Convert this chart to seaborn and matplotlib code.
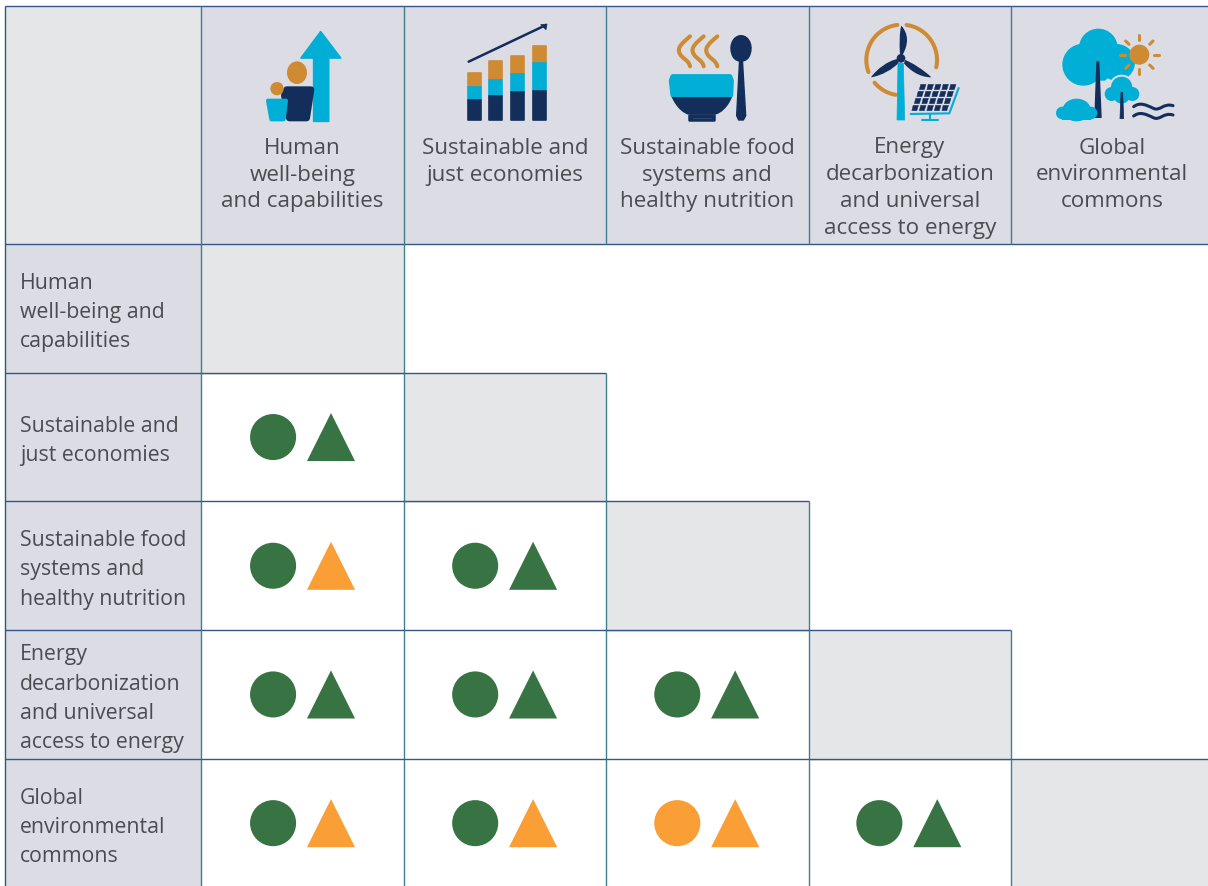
import numpy as np
import pandas as pd
import seaborn as sb
import matplotlib
matplotlib.use("Agg")
import matplotlib.pyplot as plt
from matplotlib.patches import Polygon, Circle, Ellipse, PathPatch, Rectangle
from matplotlib.path import Path

sb.set_theme(style="white")
plt.rcParams['font.family'] = ['Open Sans', 'DejaVu Sans']

header_lines = [
    ["Human", "well-being", "and capabilities"],
    ["Sustainable and", "just economies"],
    ["Sustainable food", "systems and", "healthy nutrition"],
    ["Energy", "decarbonization", "and universal", "access to energy"],
    ["Global", "environmental", "commons"],
]
row_lines = [
    ["Human", "well-being and", "capabilities"],
    ["Sustainable and", "just economies"],
    ["Sustainable food", "systems and", "healthy nutrition"],
    ["Energy", "decarbonization", "and universal", "access to energy"],
    ["Global", "environmental", "commons"],
]

# lower triangle of the matrix, one entry per pair
pair_row = [1, 2, 2, 3, 3, 3, 4, 4, 4, 4]
pair_col = [0, 0, 1, 0, 1, 2, 0, 1, 2, 3]
circle_status = ["good", "good", "good", "good", "good", "good", "good", "good", "mixed", "good"]
triangle_status = ["good", "mixed", "good", "good", "good", "good", "mixed", "mixed", "mixed", "good"]

GREEN = "#387443"
ORANGE = "#FA9E36"
HEAD = "#DBDCE4"
DIAG = "#E5E6E8"
TEXT = "#4B4B50"
HLINE = "#34568A"
VLINE = "#3F7F8E"
CYAN = "#00AED6"
NAVY = "#132E5B"
OCHRE = "#CE8B33"

W, H = 1208, 887
X0, CW = 201, 202.5
Y0, RH = 245, 128.7
TOP = 7
LEFT = 4.5

fig = plt.figure(figsize=(12.08, 8.87), dpi=100)
bg = fig.add_axes([0, 0, 1, 1], zorder=0)
bg.set_xlim(0, W)
bg.set_ylim(H, 0)
bg.set_axis_off()


def rect(x0, y0, x1, y1, color, z=1):
    bg.add_patch(Rectangle((x0, y0), x1 - x0, y1 - y0, fc=color, ec="none", zorder=z))


def hline(y, x0, x1, color=HLINE):
    bg.plot([x0, x1], [y, y], color=color, lw=1.0, zorder=3, solid_capstyle="butt")


def vline(x, y0, y1, color=VLINE):
    bg.plot([x, x], [y0, y1], color=color, lw=1.0, zorder=3, solid_capstyle="butt")


# table cells
rect(LEFT, TOP, X0, Y0, DIAG)
rect(X0, TOP, W, Y0, HEAD)
rect(LEFT, Y0, X0, H, HEAD)
for i in range(5):
    rect(X0 + i * CW, Y0 + i * RH, X0 + (i + 1) * CW, Y0 + (i + 1) * RH + 2, DIAG)

# grid
hline(TOP, LEFT, W)
hline(Y0, LEFT, W)
vline(LEFT, TOP, H, "#1F6470")
for i in range(6):
    vline(X0 + i * CW, TOP, Y0)
for i in range(5):
    yt = Y0 + i * RH
    if i > 0:
        hline(yt, LEFT, min(X0 + (i + 1) * CW, W))
    vline(X0, yt, yt + RH)
    for c in range(i + 1):
        vline(X0 + (c + 1) * CW, yt, yt + RH)

# header and row text
for i, lines in enumerate(header_lines):
    for j, line in enumerate(lines):
        bg.text(X0 + (i + 0.5) * CW, 153.5 + j * 27, line, ha="center", va="baseline",
                fontsize=16.1, color=TEXT, zorder=4)
row_base = [[289, 318, 347], [432, 461], [546, 575, 605], [660, 690, 719, 748], [804, 833, 862]]
for lines, bases in zip(row_lines, row_base):
    for line, b in zip(lines, bases):
        bg.text(20, b, line, ha="left", va="baseline", fontsize=15.3, color=TEXT, zorder=4)


# icons, points are in 3x crop coordinates measured from an origin
def mapper(ox, oy):
    return lambda pts: [(ox + a / 3, oy + b / 3) for a, b in pts]


def poly(m, pts, color, r=1.2):
    bg.add_patch(Polygon(m(pts), closed=True, fc=color, ec=color, lw=r, joinstyle="round", zorder=5))


def circ(m, x, y, r, color, z=5):
    bg.add_patch(Circle(m([(x, y)])[0], r / 3, fc=color, ec="none", zorder=z))


def oval(m, x, y, w, h, color, z=5):
    bg.add_patch(Ellipse(m([(x, y)])[0], w / 3, h / 3, fc=color, ec="none", zorder=z))


def stroke(m, pts, color, lw=2.9):
    a = np.array(m(pts))
    bg.plot(a[:, 0], a[:, 1], color=color, lw=lw, solid_capstyle="round", zorder=5)


def bez(m, pts, color=None, edge=None, lw=0, z=5):
    # pts is start then groups of three cubic points
    codes = [Path.MOVETO] + [Path.CURVE4] * (len(pts) - 1)
    bg.add_patch(PathPatch(Path(m(pts), codes), fc=color or "none", ec=edge or "none", lw=lw,
                           capstyle="round", zorder=z))


# people with arrow
m = mapper(200, 0)
poly(m, [(341, 367), (341, 177), (303, 177), (362, 98), (422, 177), (386, 177), (386, 367)], CYAN)
poly(m, [(260, 272), (333, 272), (320, 357), (268, 357), (253, 290)], NAVY, 4.8)
oval(m, 291, 221, 60, 68, OCHRE, 6)
circ(m, 231, 269, 20, OCHRE, 6)
poly(m, [(204, 305), (258, 305), (251, 361), (214, 361)], CYAN, 2.9)

# stacked bars with arrow
bar_tops = [(800, 218, 263, 302), (865, 183, 243, 291), (931, 169, 225, 278), (996, 138, 191, 275)]
for x, a, b, c in bar_tops:
    poly(m, [(x + 3, a + 3), (x + 42, a + 3), (x + 42, b), (x + 3, b)], OCHRE)
    poly(m, [(x + 3, b), (x + 42, b), (x + 42, c), (x + 3, c)], CYAN)
    poly(m, [(x + 3, c), (x + 42, c), (x + 42, 364), (x + 3, 364)], NAVY)
stroke(m, [(806, 188), (1036, 79)], NAVY, 1.8)
poly(m, [(1022, 77), (1041, 75), (1038, 92)], NAVY, 0.5)

# bowl and spoon
m = mapper(660, 25)
for dx in [0, 41, 82]:
    bez(m, [(90 + dx, 37), (70 + dx, 55), (48 + dx, 70), (60 + dx, 90),
            (68 + dx, 105), (86 + dx, 108), (90 + dx, 127)], edge=OCHRE, lw=2.9)
poly(m, [(38, 157), (210, 157), (215, 170), (213, 214), (38, 214), (33, 170)], CYAN, 3.2)
bez(m, [(35, 219), (50, 255), (75, 270), (85, 272), (110, 272), (140, 272), (165, 272),
        (180, 270), (205, 250), (216, 219), (150, 219), (100, 219), (35, 219)], color=NAVY)
poly(m, [(88, 272), (162, 272), (162, 288), (88, 288)], NAVY, 1.8)
stroke(m, [(98, 283), (152, 283)], "#3B5480", 0.5)
bez(m, [(243, 33), (270, 33), (285, 70), (268, 100), (258, 118), (228, 118), (218, 100),
        (201, 70), (216, 33), (243, 33)], color=NAVY)
poly(m, [(239, 105), (247, 105), (257, 275), (250, 288), (236, 288), (230, 275)], NAVY, 1)

# turbine and solar panel
m = mapper(860, 25)
for a0, a1 in [(82, -12), (97, 200), (220, 260)]:
    ang = np.radians(np.linspace(a0, a1, 40))
    stroke(m, list(zip(125 + 106 * np.cos(ang), 108 - 106 * np.sin(ang))), OCHRE, 2.9)
poly(m, [(114, 118), (130, 118), (134, 288), (111, 288)], CYAN, 0.5)
bez(m, [(120, 92), (118, 60), (118, 25), (124, 5), (146, 30), (146, 60), (128, 92)], color=NAVY)
bez(m, [(112, 105), (85, 110), (50, 135), (33, 160), (65, 155), (100, 135), (116, 116)], color=NAVY)
bez(m, [(135, 108), (150, 112), (195, 140), (214, 160), (180, 160), (150, 140), (132, 118)], color=NAVY)
circ(m, 123, 103, 13, NAVY)
for i in range(4):
    for j in range(5):
        x = 178 - i * 7.5 + j * 22.5
        y = 181 + i * 21
        poly(m, [(x + 4, y), (x + 20, y), (x + 15, y + 16), (x, y + 16)], NAVY, 0.3)
stroke(m, [(296, 192), (268, 268), (152, 270)], CYAN, 1.5)
stroke(m, [(210, 270), (210, 288)], CYAN, 1.5)
stroke(m, [(186, 289), (234, 289)], CYAN, 1.5)

# trees, sun, cloud
m = mapper(1055, 25)
circ(m, 130, 72, 58, CYAN)
circ(m, 85, 122, 63, CYAN)
circ(m, 185, 115, 55, CYAN)
poly(m, [(130, 60), (205, 120), (150, 170), (80, 170)], CYAN, 0)
for x, y, r in [(200, 190, 38), (170, 210, 27), (232, 210, 27)]:
    circ(m, x, y, r, HEAD, 5.1)
for x, y, r in [(200, 190, 32), (170, 210, 21), (232, 210, 21), (200, 215, 24)]:
    circ(m, x, y, r, CYAN, 5.2)
poly(m, [(126, 114), (131, 114), (138, 280), (120, 280)], NAVY, 1)
bg.patches[-1].set_zorder(5.3)
poly(m, [(198, 205), (203, 205), (206, 284), (195, 284)], NAVY, 0.5)
bg.patches[-1].set_zorder(5.3)
oval(m, 65, 258, 84, 68, CYAN, 6)
for x, y, r in [(22, 267, 19), (108, 267, 19)]:
    circ(m, x, y, r, CYAN, 6)
bg.add_patch(Rectangle(m([(22, 258)])[0], 86 / 3, 29 / 3, fc=CYAN, ec="none", zorder=6))
circ(m, 253, 92, 30, OCHRE, 6)
for deg in range(0, 360, 45):
    a = np.radians(deg)
    stroke(m, [(253 + 44 * np.cos(a), 92 + 44 * np.sin(a)), (253 + 58 * np.cos(a), 92 + 58 * np.sin(a))], OCHRE, 2.2)
for y in [250, 278]:
    bez(m, [(236, y - 2), (255, y - 16), (272, y - 8), (295, y + 3),
            (315, y + 13), (325, y - 14), (354, y - 5)], edge=NAVY, lw=2.2)

# symbols
pairs = pd.DataFrame({
    "row": pair_row,
    "col": pair_col,
    "circle": circle_status,
    "triangle": triangle_status,
})
palette = {"good": GREEN, "mixed": ORANGE}

ax = fig.add_axes([0, 0, 1, 1], zorder=1)
ax.patch.set_alpha(0)
sb.scatterplot(data=pairs.assign(xp=pairs["col"] * 0.998 + 0.356, yp=pairs["row"] + 0.5), x="xp", y="yp",
               hue="circle", palette=palette, marker="o", s=1100, linewidth=0, legend=False, ax=ax)
sb.scatterplot(data=pairs.assign(xp=pairs["col"] * 0.998 + 0.642, yp=pairs["row"] + 0.5), x="xp", y="yp",
               hue="triangle", palette=palette, marker="^", s=1200, linewidth=0, legend=False, ax=ax)
ax.set_xlim(-X0 / CW, (W - X0) / CW)
ax.set_ylim((H - Y0) / RH, -Y0 / RH)
ax.set_axis_off()

fig.savefig("out.png", dpi=100)
